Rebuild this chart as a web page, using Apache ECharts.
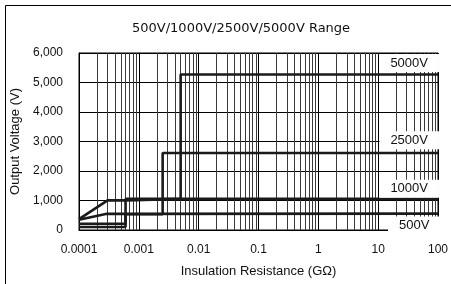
<!DOCTYPE html>
<html>
<head>
<meta charset="utf-8">
<script src="https://cdn.jsdelivr.net/npm/echarts@6/dist/echarts.min.js"></script>
<style>
  html, body { margin: 0; padding: 0; background: #fff; }
  #myCharts { width: 451px; height: 284px; }
</style>
</head>
<body>
<div id="myCharts"></div>
<script>
// tick labels
var xTickLabels = ["0.0001", "0.001", "0.01", "0.1", "1", "10", "100"];
var yTickLabels = ["0", "1,000", "2,000", "3,000", "4,000", "5,000", "6,000"];

// output voltage curves, [resistance GOhm, volts]
var curve500 = [[0.0001, 350], [0.00028, 545], [100, 555]];
var curve1000 = [[0.0001, 100], [0.0006, 100], [0.0006, 1055], [100, 1055]];
var curve2500 = [[0.0001, 210], [0.0006, 210], [0.0006, 535], [0.0025, 535], [0.0025, 2610], [100, 2610]];
var curve5000 = [[0.0001, 370], [0.0003, 1005], [0.0006, 1005], [0.0006, 1055], [0.005, 1055], [0.005, 5270], [100, 5270]];

// range labels drawn on the chart
var rangeNames = ["500V", "1000V", "2500V", "5000V"];
var rangeLabelX = [40, 33, 33, 33];
var rangeLabelY = [150, 1400, 3040, 5660];

// minor log grid lines (2..9 in each decade)
var decades = [0.0001, 0.001, 0.01, 0.1, 1, 10];
var minorX = [];
decades.forEach(function (d) {
  for (var m = 2; m <= 9; m++) minorX.push(+(d * m).toPrecision(3));
});

var lineColor = "#1a1a1a";
var curves = [curve500, curve1000, curve2500, curve5000];

let myChart = echarts.init(document.getElementById("myCharts"));

var series = [
  {
    name: "grid",
    type: "line",
    data: [],
    silent: true,
    markLine: {
      silent: true,
      z: 1,
      precision: 8,
      symbol: ["none", "none"],
      label: { show: false },
      lineStyle: { color: "#3a3a3a", type: "solid", width: 1 },
      data: minorX.map(function (v) { return { xAxis: v }; })
    }
  }
];

curves.forEach(function (c, i) {
  series.push({
    name: rangeNames[i],
    type: "line",
    data: c,
    symbol: "none",
    z: 3,
    lineStyle: { color: lineColor, width: 2.6 },
    markPoint: {
      symbol: "rect",
      symbolSize: 0,
      silent: true,
      label: {
        show: true,
        position: "inside",
        formatter: rangeNames[i],
        color: "#111",
        fontFamily: "Liberation Sans",
        fontSize: 13,
        backgroundColor: "#fff",
        padding: [3, 11, 2, 11]
      },
      data: [{ coord: [rangeLabelX[i], rangeLabelY[i]] }]
    }
  });
});

const option = {
  animation: false,
  title: {
    text: "500V/1000V/2500V/5000V Range",
    left: 127,
    top: 17,
    textStyle: {
      fontFamily: "DejaVu Sans",
      fontSize: 13,
      fontWeight: "normal",
      color: "#111"
    }
  },
  grid: {
    left: 79,
    right: 11,
    top: 53,
    bottom: 54,
    show: true,
    borderColor: "#000",
    borderWidth: 1
  },
  xAxis: {
    type: "log",
    logBase: 10,
    min: 0.0001,
    max: 100,
    name: "Insulation Resistance (GΩ)",
    nameLocation: "middle",
    nameGap: 35,
    nameTextStyle: { fontFamily: "Liberation Sans", fontSize: 13, color: "#111" },
    axisLine: { lineStyle: { color: "#000", width: 1 } },
    axisTick: { show: false },
    axisLabel: {
      margin: 14,
      fontFamily: "Liberation Sans",
      fontSize: 12,
      color: "#111",
      formatter: function (v) {
        return xTickLabels[Math.round(Math.log10(v)) + 4];
      }
    },
    splitLine: { show: true, lineStyle: { color: "#000", width: 1 } }
  },
  yAxis: {
    type: "value",
    min: 0,
    max: 6000,
    interval: 1000,
    name: "Output Voltage (V)",
    nameLocation: "middle",
    nameGap: 56,
    nameTextStyle: { fontFamily: "Liberation Sans", fontSize: 13, color: "#111" },
    axisLine: { show: true, lineStyle: { color: "#000" } },
    axisTick: { show: false },
    axisLabel: {
      margin: 16,
      fontFamily: "Liberation Sans",
      fontSize: 12,
      color: "#111",
      formatter: function (v) {
        return yTickLabels[Math.round(v / 1000)];
      }
    },
    splitLine: { show: true, lineStyle: { color: "#000", width: 1 } }
  },
  graphic: [
    {
      type: "line",
      shape: { x1: 5.5, y1: 5.5, x2: 451, y2: 5.5 },
      style: { stroke: "#000", lineWidth: 1 }
    },
    {
      type: "line",
      shape: { x1: 5.5, y1: 5.5, x2: 5.5, y2: 284 },
      style: { stroke: "#000", lineWidth: 1 }
    }
  ],
  series: series
};
myChart.setOption(option);
</script>
</body>
</html>
